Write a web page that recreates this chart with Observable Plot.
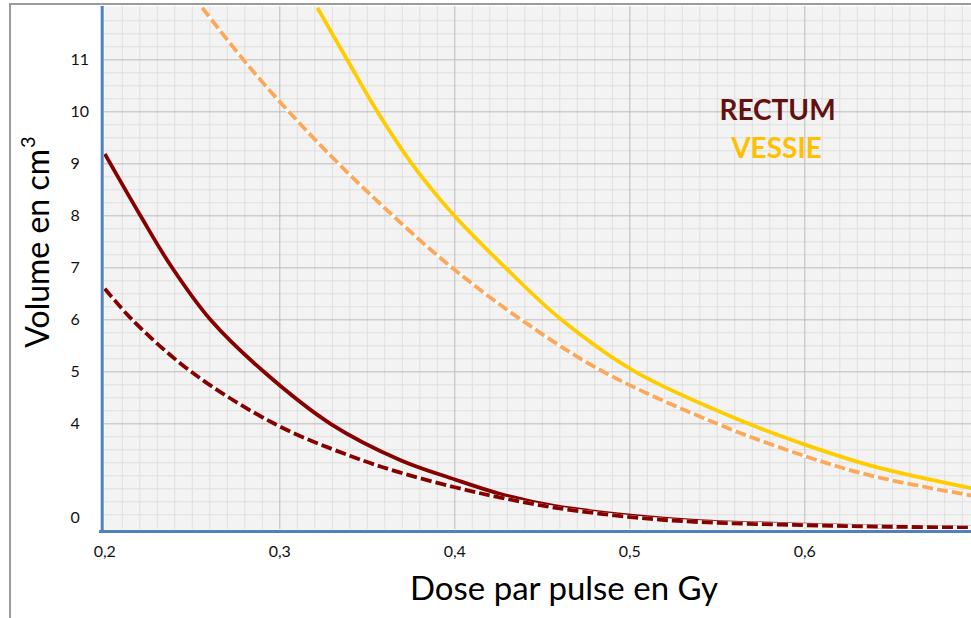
<!DOCTYPE html>
<html><head><meta charset="utf-8">
<script src="https://cdn.jsdelivr.net/npm/d3@7"></script>
<script src="https://cdn.jsdelivr.net/npm/@observablehq/plot@0.6"></script>
<style>
html,body{margin:0;padding:0;background:#fff;width:971px;height:618px;overflow:hidden;}
#wrap{position:relative;width:971px;height:618px;overflow:hidden;}
#frame{position:absolute;left:9px;top:3px;width:1000px;height:700px;border-left:2px solid #9c9c9c;border-top:2px solid #9c9c9c;}
#chart{position:absolute;left:0;top:0;}
</style></head><body>
<div id="wrap"><div id="frame"></div><div id="chart"></div></div>
<script>
// ---- data ----
const doseRectumSolid = [0.200,0.2204,0.2385,0.2604,0.2909,0.329,0.369,0.400,0.4261,0.4566,0.502,0.540,0.600,0.650,0.700];
const volRectumSolid  = [9.19,8.00,7.00,6.00,5.00,4.00,3.30,2.93,2.65,2.42,2.23,2.13,2.06,2.02,2.00];

const doseRectumDashed = [0.200,0.2157,0.2494,0.297,0.3404,0.369,0.400,0.4261,0.4566,0.502,0.540,0.600,0.650,0.700];
const volRectumDashed  = [6.60,6.00,5.00,4.00,3.38,3.06,2.78,2.58,2.39,2.20,2.11,2.05,2.02,2.00];

const doseVessieSolid = [0.3215,0.3385,0.3558,0.3755,0.3998,0.429,0.461,0.5032,0.568,0.600,0.6394,0.6953];
const volVessieSolid  = [12,11,10,9,8,7,6,5,4,3.60,3.18,2.76];

const doseVessieDashed = [0.2557,0.2792,0.3052,0.3337,0.3647,0.3985,0.438,0.485,0.550,0.600,0.6394,0.6953];
const volVessieDashed  = [12,11,10,9,8,7,6,5,4,3.38,2.99,2.62];

const xTickValues = [0.2,0.3,0.4,0.5,0.6];
const yTickValues = [2.2,4,5,6,7,8,9,10,11];
const yTickLabels = ["0","4","5","6","7","8","9","10","11"];
const seriesNames = ["RECTUM","VESSIE"];

// ---- build tables ----
const rows = (xs, ys) => xs.map((d, i) => ({dose: d, vol: ys[i]}));
const rectumSolid = rows(doseRectumSolid, volRectumSolid);
const rectumDashed = rows(doseRectumDashed, volRectumDashed);
const vessieSolid = rows(doseVessieSolid, volVessieSolid);
const vessieDashed = rows(doseVessieDashed, volVessieDashed);

const xMajor = [0.3,0.4,0.5,0.6];
const xMinor = d3.range(21, 70).map(i => i / 100).filter(v => !xMajor.some(m => Math.abs(m - v) < 1e-9));
const yMajor = [4,5,6,7,8,9,10,11];
const yMinor = d3.range(9, 48).map(i => i / 4).filter(v => !yMajor.includes(v));

const C_RECTUM = "#870000", C_VES = "#ffcc00", C_VES_D = "#fca75a";
const L = {x: "dose", y: "vol", curve: "catmull-rom", clip: true, strokeLinecap: "butt"};
const fmt = d => d.toFixed(1).replace(".", ",");

const chart = Plot.plot({
  width: 971, height: 618,
  marginLeft: 104, marginRight: 0, marginTop: 6, marginBottom: 89,
  style: {background: "transparent", fontFamily: "Lato, 'Open Sans', sans-serif", overflow: "hidden", color: "#111"},
  x: {domain: [0.2, 0.7], range: [104.3, 979.3], axis: null},
  y: {domain: [2, 12], range: [527.3, 7.3], axis: null},
  marks: [
    Plot.frame({fill: "#f3f3f3", stroke: "none"}),
    Plot.ruleX(xMinor, {stroke: "#dfdfdf", strokeWidth: 1}),
    Plot.ruleY(yMinor, {stroke: "#dfdfdf", strokeWidth: 1}),
    Plot.ruleX(xMajor, {stroke: "#bdbdbd", strokeWidth: 1}),
    Plot.ruleY(yMajor, {stroke: "#bdbdbd", strokeWidth: 1}),
    // series
    Plot.line(rectumSolid, {...L, stroke: C_RECTUM, strokeWidth: 3.8}),
    Plot.line(rectumDashed, {...L, stroke: "white", strokeWidth: 3.8}),
    Plot.line(rectumDashed, {...L, stroke: C_RECTUM, strokeWidth: 3.8, strokeDasharray: "11,4"}),
    Plot.line(vessieSolid, {...L, stroke: C_VES, strokeWidth: 3.8}),
    Plot.line(vessieDashed, {...L, stroke: "white", strokeWidth: 3.8}),
    Plot.line(vessieDashed, {...L, stroke: C_VES_D, strokeWidth: 3.8, strokeDasharray: "11,4"}),
    // axis lines
    Plot.ruleX([0.2], {stroke: "#4f81bd", strokeWidth: 3, dx: -2.6, insetBottom: -4}),
    Plot.ruleY([2], {stroke: "#4f81bd", strokeWidth: 3, dy: 3.6, insetLeft: -5}),
    // tick labels
    Plot.text(xTickValues, {x: d => d, text: fmt, frameAnchor: "bottom", lineAnchor: "middle", dy: 22, fontSize: 16, fill: "#111"}),
    Plot.text(yTickValues, {y: d => d, text: (d, i) => yTickLabels[i], frameAnchor: "left", dx: -34, textAnchor: "start", lineAnchor: "middle", fontSize: 16, fill: "#111"}),
    // axis titles
    Plot.text(["Dose par pulse en Gy"], {frameAnchor: "bottom", textAnchor: "middle", lineAnchor: "middle", dx: 26, dy: 60, fontSize: 33, fill: "#000"}),
    Plot.text(["Volume en cm"], {frameAnchor: "left", textAnchor: "end", lineAnchor: "middle", rotate: -90, dx: -66, dy: -119, fontSize: 32, fill: "#000"}),
    Plot.text(["3"], {frameAnchor: "left", textAnchor: "start", lineAnchor: "middle", rotate: -90, dx: -76, dy: -120, fontSize: 20, fill: "#000"}),
    // legend
    Plot.text([seriesNames[0]], {frameAnchor: "top-left", textAnchor: "middle", lineAnchor: "middle", dx: 673, dy: 105, fontSize: 28, fontWeight: "bold", fill: "#631010"}),
    Plot.text([seriesNames[1]], {frameAnchor: "top-left", textAnchor: "middle", lineAnchor: "middle", dx: 672, dy: 143, fontSize: 28, fontWeight: "bold", fill: "#ffc000"})
  ]
});
document.getElementById("chart").appendChild(chart);
</script>
</body></html>
